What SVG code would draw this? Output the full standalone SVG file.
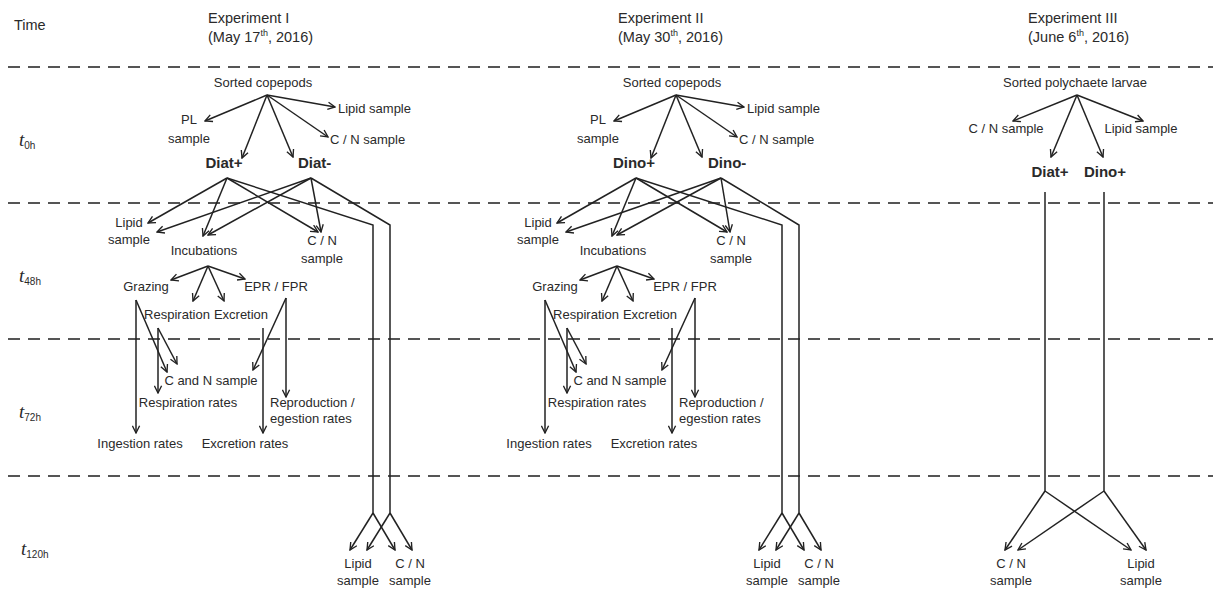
<svg xmlns="http://www.w3.org/2000/svg" width="1213" height="589" viewBox="0 0 1213 589">
<style>
text{font-family:"Liberation Sans",Arial,sans-serif;font-size:13px;fill:#2a2a2a}
.h{font-size:14.5px}
.b{font-weight:bold;font-size:15px}
.m{text-anchor:middle}
.sup{font-size:9px}
.tt{font-family:"Liberation Serif","Times New Roman",serif;font-style:italic;font-size:19px}
.sub{font-family:"Liberation Sans",Arial,sans-serif;font-style:normal;font-size:10px}
.c{fill:none;stroke:#222;stroke-width:1.5}
.a{marker-end:url(#arr)}
.d{fill:none;stroke:#555;stroke-width:2;stroke-dasharray:12 8}
</style>
<defs>
<marker id="arr" viewBox="0 0 10 10" refX="9" refY="5" markerWidth="9" markerHeight="9" markerUnits="userSpaceOnUse" orient="auto">
<path d="M1,1 L9,5 L1,9" fill="none" stroke="#222" stroke-width="1.5"/>
</marker>
</defs>
<rect width="1213" height="589" fill="#fff"/>

<g id="separators">
<line class="d" x1="8" y1="67" x2="1213" y2="67"/>
<line class="d" x1="8" y1="203" x2="1213" y2="203"/>
<line class="d" x1="8" y1="339" x2="1213" y2="339"/>
<line class="d" x1="8" y1="476" x2="1213" y2="476"/>
</g>

<g id="time-axis">
<text x="14" y="30" class="h">Time</text>
<text x="19" y="146" class="tt">t<tspan class="sub" dy="3">0h</tspan></text>
<text x="19" y="282" class="tt">t<tspan class="sub" dy="3">48h</tspan></text>
<text x="19" y="418" class="tt">t<tspan class="sub" dy="3">72h</tspan></text>
<text x="21" y="555" class="tt">t<tspan class="sub" dy="3">120h</tspan></text>
</g>

<g id="exp1-header">
<text x="208" y="23" class="h">Experiment I</text>
<text x="208" y="42" class="h">(May 17<tspan class="sup" dy="-6">th</tspan><tspan dy="6">, 2016)</tspan></text>
</g>
<g id="exp2-header">
<text x="618" y="23" class="h">Experiment II</text>
<text x="618" y="42" class="h">(May 30<tspan class="sup" dy="-6">th</tspan><tspan dy="6">, 2016)</tspan></text>
</g>
<g id="exp3-header">
<text x="1028" y="23" class="h">Experiment III</text>
<text x="1028" y="42" class="h">(June 6<tspan class="sup" dy="-6">th</tspan><tspan dy="6">, 2016)</tspan></text>
</g>

<!-- Experiment I -->
<g id="exp1">
<g id="e1-connectors">
<path class="c a" d="M267,95 L335,107"/>
<path class="c a" d="M267,95 L205,121"/>
<path class="c a" d="M267,95 L328,137"/>
<path class="c a" d="M267,95 L242,158"/>
<path class="c a" d="M267,95 L293,157"/>
<path class="c a" d="M227,178 L148,223"/>
<path class="c a" d="M227,178 L203,236"/>
<path class="c a" d="M227,178 L318,232"/>
<path class="c" d="M227,178 L373,225 L373,513"/>
<path class="c a" d="M311,178 L157,232"/>
<path class="c a" d="M311,178 L208,235"/>
<path class="c a" d="M311,178 L321,232"/>
<path class="c" d="M311,178 L390,225 L390,513"/>
<path class="c a" d="M373,513 L350,550"/>
<path class="c a" d="M373,513 L395,550"/>
<path class="c a" d="M390,513 L367,550"/>
<path class="c a" d="M390,513 L412,550"/>
<path class="c a" d="M208,266 L171,280"/>
<path class="c a" d="M208,266 L193,301"/>
<path class="c a" d="M208,266 L224,301"/>
<path class="c a" d="M208,266 L245,279"/>
<path class="c a" d="M136,300 L136,433"/>
<path class="c a" d="M136,300 L167,372"/>
<path class="c a" d="M158,328 L158,393"/>
<path class="c a" d="M158,328 L177,364"/>
<path class="c a" d="M286,298 L286,397"/>
<path class="c a" d="M286,298 L253,370"/>
<path class="c a" d="M263,328 L263,433"/>
</g>
<g id="e1-sorted"><text x="263" y="87" class="m">Sorted copepods</text></g>
<g id="e1-lipid0"><text x="338" y="113">Lipid sample</text></g>
<g id="e1-pl"><text x="189" y="124" class="m">PL</text><text x="189" y="143" class="m">sample</text></g>
<g id="e1-cn0"><text x="330" y="144">C / N sample</text></g>
<g id="e1-diatp"><text x="224" y="168" class="b m">Diat+</text></g>
<g id="e1-diatm"><text x="298" y="168" class="b">Diat-</text></g>
<g id="e1-lipid48"><text x="129" y="227" class="m">Lipid</text><text x="129" y="244" class="m">sample</text></g>
<g id="e1-incub"><text x="204" y="255" class="m">Incubations</text></g>
<g id="e1-cn48"><text x="322" y="245" class="m">C / N</text><text x="322" y="263" class="m">sample</text></g>
<g id="e1-grazing"><text x="146" y="291" class="m">Grazing</text></g>
<g id="e1-epr"><text x="276" y="291" class="m">EPR / FPR</text></g>
<g id="e1-resp"><text x="177" y="319" class="m">Respiration</text></g>
<g id="e1-excr"><text x="241" y="319" class="m">Excretion</text></g>
<g id="e1-cnsample"><text x="211" y="385" class="m">C and N sample</text></g>
<g id="e1-resprates"><text x="188" y="407" class="m">Respiration rates</text></g>
<g id="e1-repro"><text x="270" y="407">Reproduction /</text><text x="270" y="423">egestion rates</text></g>
<g id="e1-ingest"><text x="140" y="448" class="m">Ingestion rates</text></g>
<g id="e1-excrrates"><text x="245" y="448" class="m">Excretion rates</text></g>
<g id="e1-lipid120"><text x="358" y="568" class="m">Lipid</text><text x="358" y="585" class="m">sample</text></g>
<g id="e1-cn120"><text x="410" y="568" class="m">C / N</text><text x="410" y="585" class="m">sample</text></g>
</g>

<!-- Experiment II -->
<g id="exp2" transform="translate(409,0)">
<g id="e2-connectors">
<path class="c a" d="M267,95 L335,107"/>
<path class="c a" d="M267,95 L205,121"/>
<path class="c a" d="M267,95 L328,137"/>
<path class="c a" d="M267,95 L242,158"/>
<path class="c a" d="M267,95 L293,157"/>
<path class="c a" d="M227,178 L148,223"/>
<path class="c a" d="M227,178 L203,236"/>
<path class="c a" d="M227,178 L318,232"/>
<path class="c" d="M227,178 L373,225 L373,513"/>
<path class="c a" d="M312,178 L157,232"/>
<path class="c a" d="M312,178 L208,235"/>
<path class="c a" d="M312,178 L321,232"/>
<path class="c" d="M312,178 L390,225 L390,513"/>
<path class="c a" d="M373,513 L350,550"/>
<path class="c a" d="M373,513 L395,550"/>
<path class="c a" d="M390,513 L367,550"/>
<path class="c a" d="M390,513 L412,550"/>
<path class="c a" d="M208,266 L171,280"/>
<path class="c a" d="M208,266 L193,301"/>
<path class="c a" d="M208,266 L224,301"/>
<path class="c a" d="M208,266 L245,279"/>
<path class="c a" d="M136,300 L136,433"/>
<path class="c a" d="M136,300 L167,372"/>
<path class="c a" d="M158,328 L158,393"/>
<path class="c a" d="M158,328 L177,364"/>
<path class="c a" d="M286,298 L286,397"/>
<path class="c a" d="M286,298 L253,370"/>
<path class="c a" d="M263,328 L263,433"/>
</g>
<g id="e2-sorted"><text x="263" y="87" class="m">Sorted copepods</text></g>
<g id="e2-lipid0"><text x="338" y="113">Lipid sample</text></g>
<g id="e2-pl"><text x="189" y="124" class="m">PL</text><text x="189" y="143" class="m">sample</text></g>
<g id="e2-cn0"><text x="330" y="144">C / N sample</text></g>
<g id="e2-dinop"><text x="225" y="168" class="b m">Dino+</text></g>
<g id="e2-dinom"><text x="299" y="168" class="b">Dino-</text></g>
<g id="e2-lipid48"><text x="129" y="227" class="m">Lipid</text><text x="129" y="244" class="m">sample</text></g>
<g id="e2-incub"><text x="204" y="255" class="m">Incubations</text></g>
<g id="e2-cn48"><text x="322" y="245" class="m">C / N</text><text x="322" y="263" class="m">sample</text></g>
<g id="e2-grazing"><text x="146" y="291" class="m">Grazing</text></g>
<g id="e2-epr"><text x="276" y="291" class="m">EPR / FPR</text></g>
<g id="e2-resp"><text x="177" y="319" class="m">Respiration</text></g>
<g id="e2-excr"><text x="241" y="319" class="m">Excretion</text></g>
<g id="e2-cnsample"><text x="211" y="385" class="m">C and N sample</text></g>
<g id="e2-resprates"><text x="188" y="407" class="m">Respiration rates</text></g>
<g id="e2-repro"><text x="270" y="407">Reproduction /</text><text x="270" y="423">egestion rates</text></g>
<g id="e2-ingest"><text x="140" y="448" class="m">Ingestion rates</text></g>
<g id="e2-excrrates"><text x="245" y="448" class="m">Excretion rates</text></g>
<g id="e2-lipid120"><text x="358" y="568" class="m">Lipid</text><text x="358" y="585" class="m">sample</text></g>
<g id="e2-cn120"><text x="410" y="568" class="m">C / N</text><text x="410" y="585" class="m">sample</text></g>
</g>

<!-- Experiment III -->
<g id="exp3">
<g id="e3-connectors">
<path class="c a" d="M1077,95 L1013,121"/>
<path class="c a" d="M1077,95 L1143,121"/>
<path class="c a" d="M1077,95 L1051,157"/>
<path class="c a" d="M1077,95 L1103,157"/>
<path class="c" d="M1045,192 L1045,491"/>
<path class="c" d="M1104,192 L1104,491"/>
<path class="c a" d="M1045,491 L1005,550"/>
<path class="c a" d="M1045,491 L1131,550"/>
<path class="c a" d="M1104,491 L1018,550"/>
<path class="c a" d="M1104,491 L1146,550"/>
</g>
<g id="e3-sorted"><text x="1075" y="87" class="m">Sorted polychaete larvae</text></g>
<g id="e3-cn0"><text x="1006" y="133" class="m">C / N sample</text></g>
<g id="e3-lipid0"><text x="1141" y="133" class="m">Lipid sample</text></g>
<g id="e3-diatp"><text x="1050" y="177" class="b m">Diat+</text></g>
<g id="e3-dinop"><text x="1105" y="177" class="b m">Dino+</text></g>
<g id="e3-cn120"><text x="1011" y="568" class="m">C / N</text><text x="1011" y="585" class="m">sample</text></g>
<g id="e3-lipid120"><text x="1141" y="568" class="m">Lipid</text><text x="1141" y="585" class="m">sample</text></g>
</g>
</svg>
